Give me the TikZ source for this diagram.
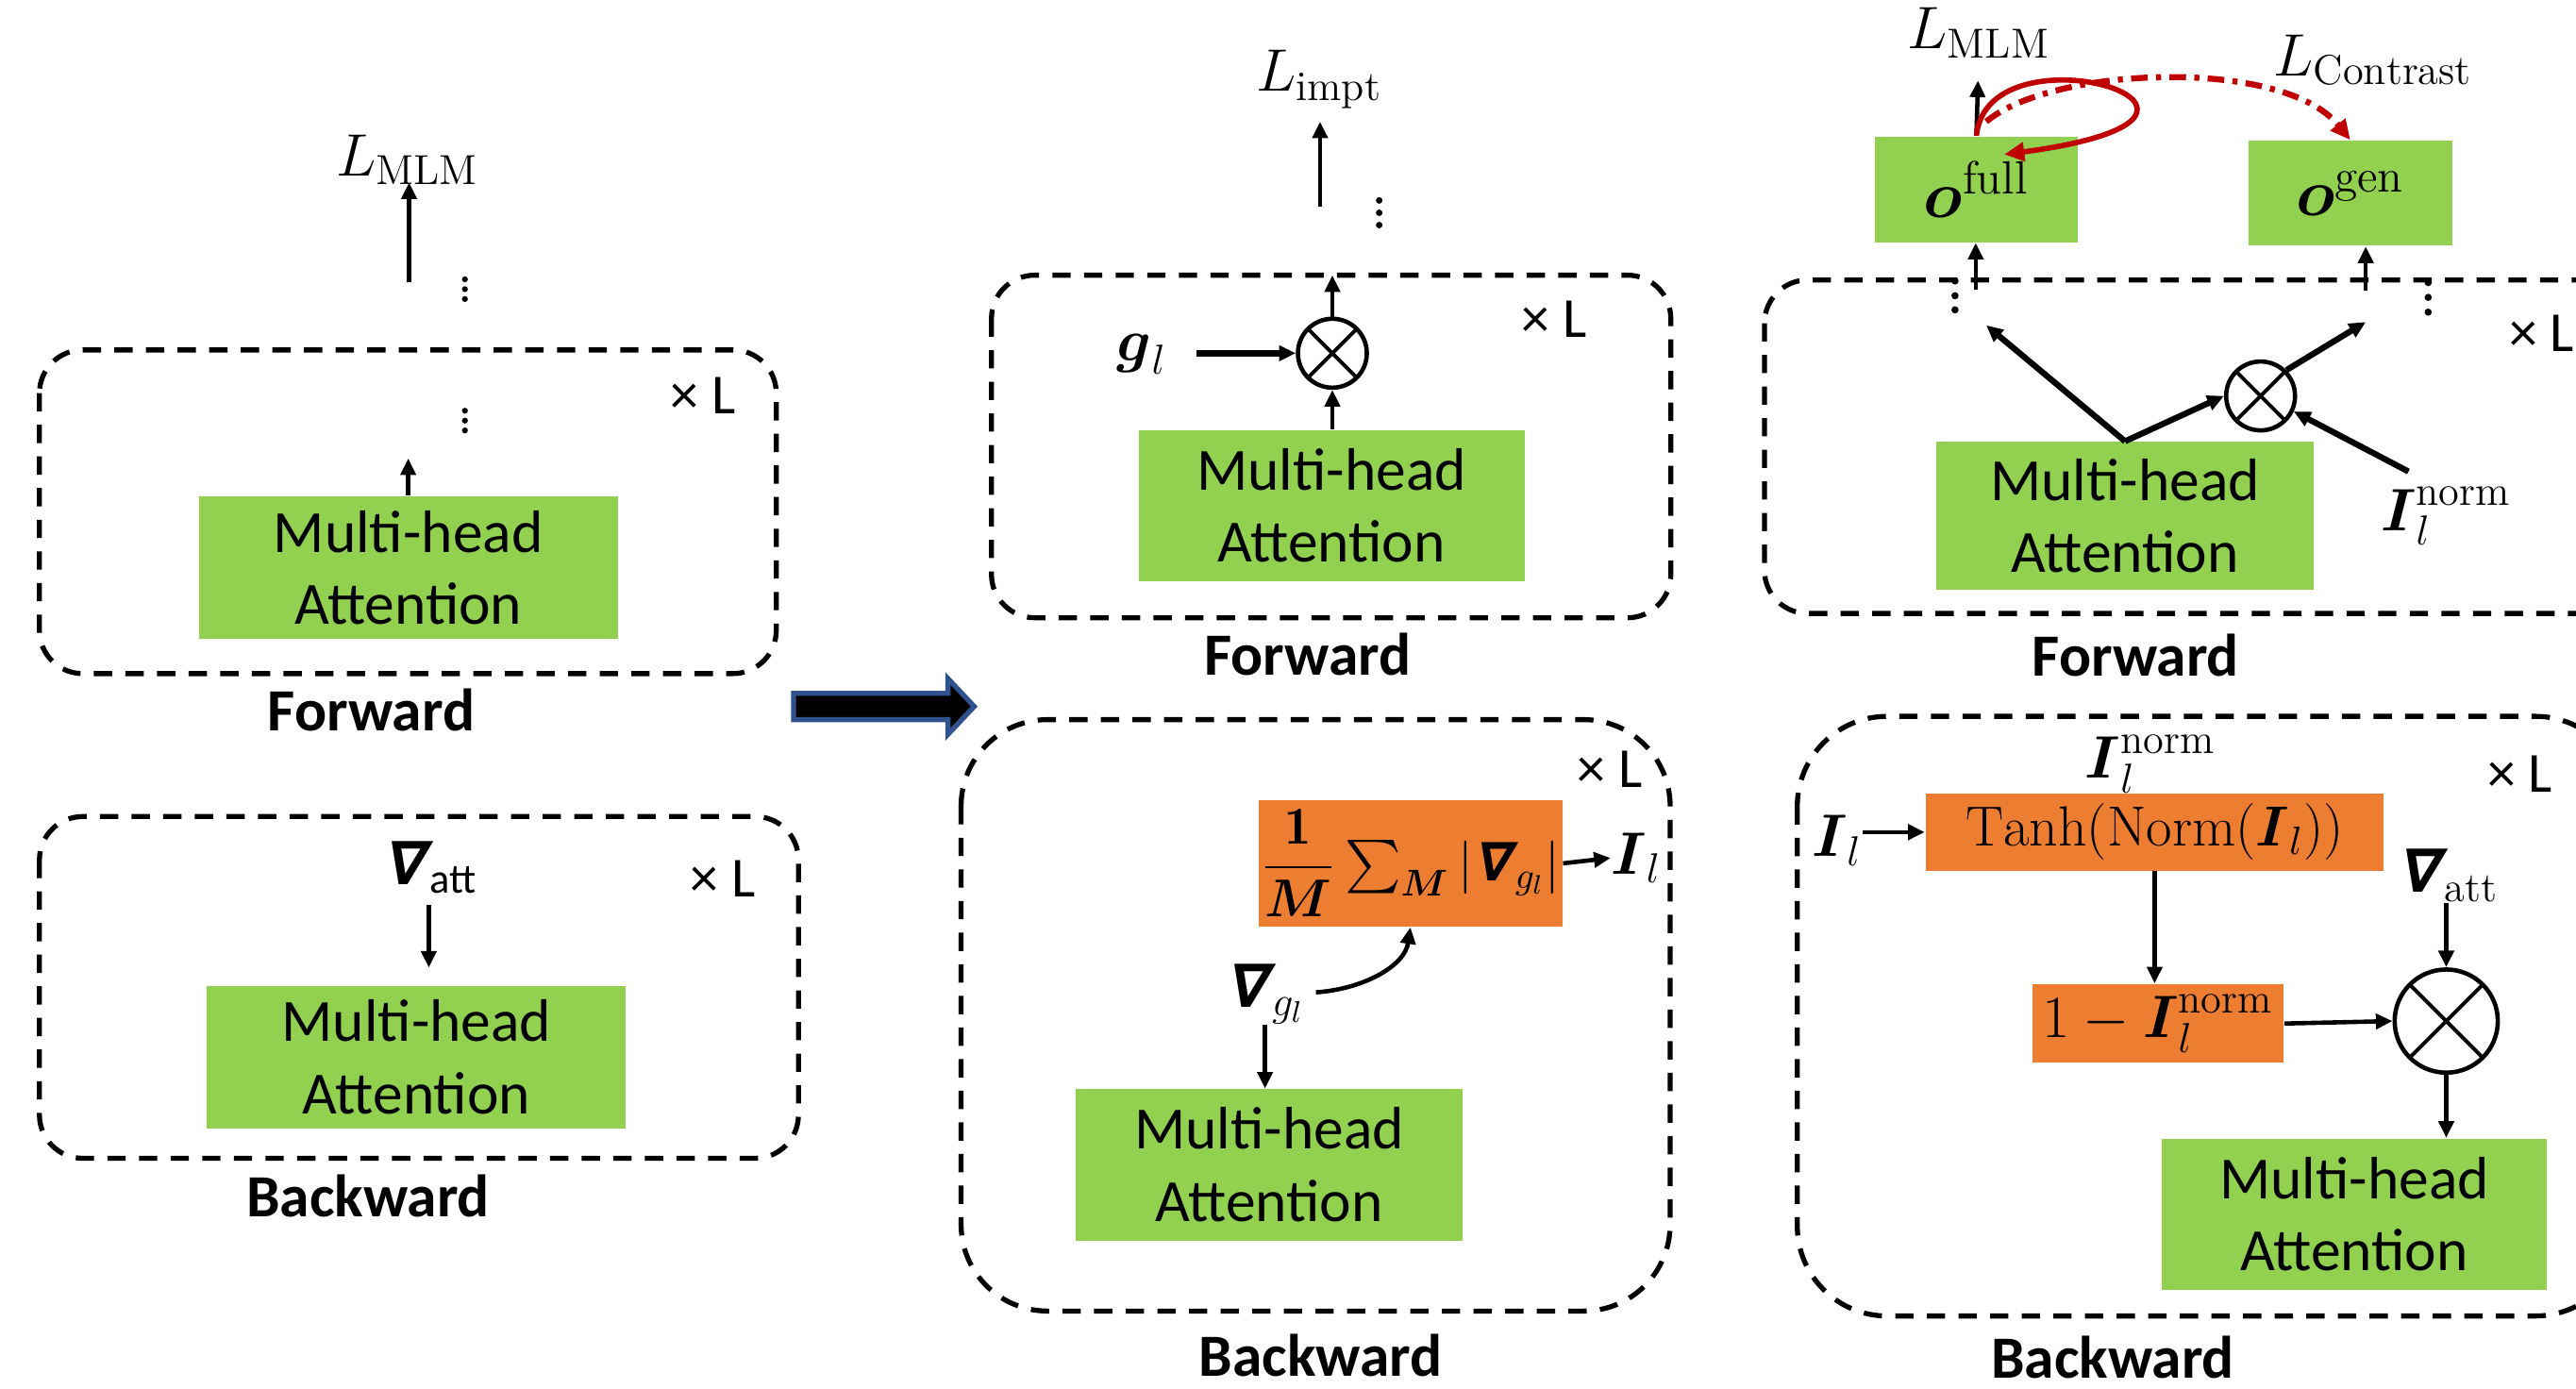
\RequirePackage{fix-cm}
\documentclass[tikz,border=0pt]{standalone}
\usepackage{amsmath,amssymb}
\usepackage{fontspec}
\setsansfont{Carlito}
\newfontfamily\nabfont{DejaVu Sans}[FakeSlant=0.22]
\usetikzlibrary{arrows.meta,calc}
\definecolor{mhgreen}{RGB}{146,208,80}
\definecolor{mhorange}{RGB}{237,125,49}
\definecolor{lossred}{RGB}{192,0,0}
\definecolor{arrblue}{RGB}{47,82,143}
\newcommand\Nab{\mbox{\nabfont\bfseries ∇\kern1.5pt}}
\begin{document}
\begin{tikzpicture}[x=0.4936pt, y=-0.4936pt,
  bxs/.style 2 args={minimum width=#1*0.4936pt, minimum height=#2*0.4936pt},
  mha/.style={fill=mhgreen, inner sep=0pt, align=center, font=\sffamily\fontsize{18}{21.7}\selectfont},
  obox/.style={fill=mhorange, inner sep=0pt, font=\fontsize{17}{20}\selectfont},
  obx/.style={fill=mhgreen, inner sep=0pt, font=\fontsize{20}{24}\selectfont},
  dbox/.style={draw, line width=1.5pt, dash pattern=on 5.5pt off 4pt},
  lbl/.style={inner sep=0pt, font=\fontsize{18}{21}\selectfont},
  tms/.style={inner sep=0pt, font=\sffamily\fontsize{17}{20}\selectfont},
  captxt/.style={inner sep=0pt, font=\sffamily\bfseries\fontsize{18}{21}\selectfont},
  arr/.style={-{Triangle[length=5pt,width=4.5pt]}, line width=1.3pt},
  thk/.style={line width=1.8pt},
  otm/.style={circle, draw, line width=1.3pt, inner sep=0pt, fill=white,
    path picture={\draw[line width=1.1pt] (path picture bounding box.south west) -- (path picture bounding box.north east)
      (path picture bounding box.north west) -- (path picture bounding box.south east);}},
  redarr/.style={draw=lossred, -{Triangle[length=6pt,width=5.5pt]}}
]
\useasboundingbox (0,0) rectangle (1568,845);
\clip (0,0) rectangle (1568,845);

% ---------------- left forward
\draw[dbox, rounded corners=13pt] (24,213) rectangle (472.5,410);
\node[mha, bxs={255}{87}] (lfm) at (248.5,345.5) {Multi-head\\Attention};
\coordinate (lfa) at (248.5,279);
\draw[arr] (lfm.north) -- (lfa);
\node[tms] (lfx) at (428,241) {× L};
\foreach \yy in {250,256,262} \fill (283,\yy) circle (1.8);
\foreach \yy in {170,176,182} \fill (283,\yy) circle (1.8);
\node[lbl, anchor=base] (lml) at (248,107) {$L_{\mathrm{MLM}}$};
\coordinate (lmf) at (249,172);
\coordinate (lmt) at (249,111);
\draw[arr] (lmf) -- (lmt);
\node[captxt] (lfc) at (226,432) {Forward};

% ---------------- left backward
\draw[dbox, rounded corners=13pt] (24,497) rectangle (486,705);
\node[lbl] (lna) at (262,528) {$\Nab_{\text{\sffamily att}}$};
\node[mha, bxs={255}{87}] (lbm) at (253.5,643.5) {Multi-head\\Attention};
\coordinate (lbs) at (261,551);
\coordinate (lbe) at (261,589);
\draw[arr] (lbs) -- (lbe);
\node[tms] (lbx) at (440,535) {× L};
\node[captxt] (lbc) at (224,728) {Backward};

% ---------------- block arrow
\draw[fill=black, draw=arrblue, line width=1.5pt] (483,422) -- (577,422) -- (577,413) -- (593,430) -- (577,447) -- (577,438) -- (483,438) -- cycle;

% ---------------- middle forward
\node[lbl, anchor=base] (mli) at (803,55.5) {$L_{\mathrm{impt}}$};
\coordinate (mlf) at (803.5,126);
\coordinate (mlt) at (803.5,74);
\draw[arr] (mlf) -- (mlt);
\foreach \yy in {122,129.5,137} \fill (839.5,\yy) circle (2);
\draw[dbox, rounded corners=13pt] (603.5,167.5) rectangle (1017,376);
\node[otm, minimum size=20.7pt] (mot) at (811,215) {};
\node[mha, bxs={235}{91.6}] (mfm) at (810.5,307.8) {Multi-head\\Attention};
\node[lbl, anchor=base] (mgl) at (695,219.4) {$\boldsymbol{g}_l$};
\coordinate (mga) at (728,215);
\draw[arr, thk] (mga) -- (mot.west);
\coordinate (mtop) at (811,167.5);
\draw[arr] (mot.north) -- (mtop);
\draw[arr] (mfm.north -| mot.south) -- (mot.south);
\node[tms] (mfx) at (946,194) {× L};
\node[captxt] (mfc) at (796,398) {Forward};

% ---------------- middle backward
\draw[dbox, rounded corners=26pt] (585,438) rectangle (1016.6,798);
\node[tms] (mbx) at (980,468) {× L};
\node[obox, bxs={185}{77}, font=\fontsize{16}{19}\selectfont] (mfr) at (858.5,525.5) {$\dfrac{\mathbf{1}}{\boldsymbol{M}}\sum_{\boldsymbol{M}}\,\lvert\Nab_{g_l}\rvert$};
\node[lbl, anchor=base] (mIl) at (996,532) {$\boldsymbol{I}_l$};
\draw[arr] (mfr.east) -- (mIl.west);
\node[lbl] (mng) at (770,605) {$\Nab_{g_l}$};
\node[mha, bxs={235}{92}] (mbm) at (772.5,709) {Multi-head\\Attention};
\coordinate (mgc) at (801,604);
\draw[arr] (mgc) .. controls (830,602) and (855,588) .. (mfr.south);
\draw[arr] (mng.south) -- (mng.south |- mbm.north);
\node[captxt] (mbc) at (804,825) {Backward};

% ---------------- right top
\node[lbl, anchor=base] (rlm) at (1204.5,29.7) {$L_{\mathrm{MLM}}$};
\node[lbl, anchor=base] (rlc) at (1444.5,46) {$L_{\mathrm{Contrast}}$};
\node[obx, bxs={123}{64.4}] (rof) at (1203,115.2) {$\boldsymbol{o}^{\mathrm{full}}$};
\node[obx, bxs={124}{64}] (rog) at (1430.6,117.6) {$\boldsymbol{o}^{\mathrm{gen}}$};
\coordinate (rla) at (1204,49);
\draw[arr] (rof.north) -- (rla);
\coordinate (rle) at (1220,94);
\draw[redarr, line width=1.6pt] (rof.north) .. controls (1210,12) and (1400,70) .. (rle);
\coordinate (rds) at (1209,74);
\draw[redarr, line width=1.8pt, dash pattern=on 5pt off 2.5pt on 1.5pt off 2.5pt] (rds) .. controls (1250,40) and (1390,35) .. (rog.north);

% ---------------- right forward
\draw[dbox, rounded corners=13pt] (1074,170.4) rectangle (1595,373.4);
\coordinate (rfa) at (1202.6,176.3);
\draw[arr] (rfa) -- (rfa |- rof.south);
\coordinate (rga) at (1440,177);
\draw[arr] (rga) -- (rga |- rog.south);
\foreach \yy in {171,180,188.6} \fill (1190,\yy) circle (2.2);
\foreach \yy in {172,181,190} \fill (1478,\yy) circle (2.2);
\node[mha, bxs={230}{90}] (rfm) at (1293.5,314) {Multi-head\\Attention};
\node[otm, minimum size=20.7pt] (rot) at (1376,241) {};
\coordinate (rfl) at (1209,198);
\draw[arr, thk] (rfm.north) -- (rfl);
\draw[arr, thk] (rfm.north) -- (rot.west);
\coordinate (rfr) at (1440,196);
\draw[arr, thk] (rot.north east) -- (rfr);
\node[lbl, anchor=base] (rIn) at (1489,322.8) {$\boldsymbol{I}_l^{\mathrm{norm}}$};
\coordinate (rIa) at (1466,287);
\draw[arr, thk] (rIa) -- (rot.-25);
\node[tms] (rfx) at (1547,203) {× L};
\node[captxt] (rfc) at (1300,399) {Forward};

% ---------------- right backward
\draw[dbox, rounded corners=27pt] (1094,436) rectangle (1598,801);
\node[lbl, anchor=base] (rIt) at (1309,473.5) {$\boldsymbol{I}_l^{\mathrm{norm}}$};
\node[tms] (rbx) at (1534,471) {× L};
\node[obox, bxs={279}{47}] (rth) at (1311.5,506.5) {$\mathrm{Tanh}(\mathrm{Norm}(\boldsymbol{I}_l))$};
\node[lbl, anchor=base] (rIl) at (1118,521.5) {$\boldsymbol{I}_l$};
\draw[arr] (rIl.east |- rth.west) -- (rth.west);
\node[obox, bxs={153}{48}, font=\fontsize{18}{21}\selectfont] (rom) at (1313.5,623) {$1-\boldsymbol{I}_l^{\mathrm{norm}}$};
\draw[arr] (rth.south) -- (rth.south |- rom.north);
\node[otm, minimum size=31pt] (rbo) at (1489,621.5) {};
\draw[arr] (rom.east) -- (rbo.west);
\node[lbl] (rna) at (1490,533) {$\Nab_{\mathrm{att}}$};
\draw[arr] (rna.south -| rbo.north) -- (rbo.north);
\node[mha, bxs={234}{92}] (rbm) at (1433,739) {Multi-head\\Attention};
\draw[arr] (rbo.south) -- (rbo.south |- rbm.north);
\node[captxt] (rbc) at (1286,826) {Backward};
\end{tikzpicture}
\end{document}
